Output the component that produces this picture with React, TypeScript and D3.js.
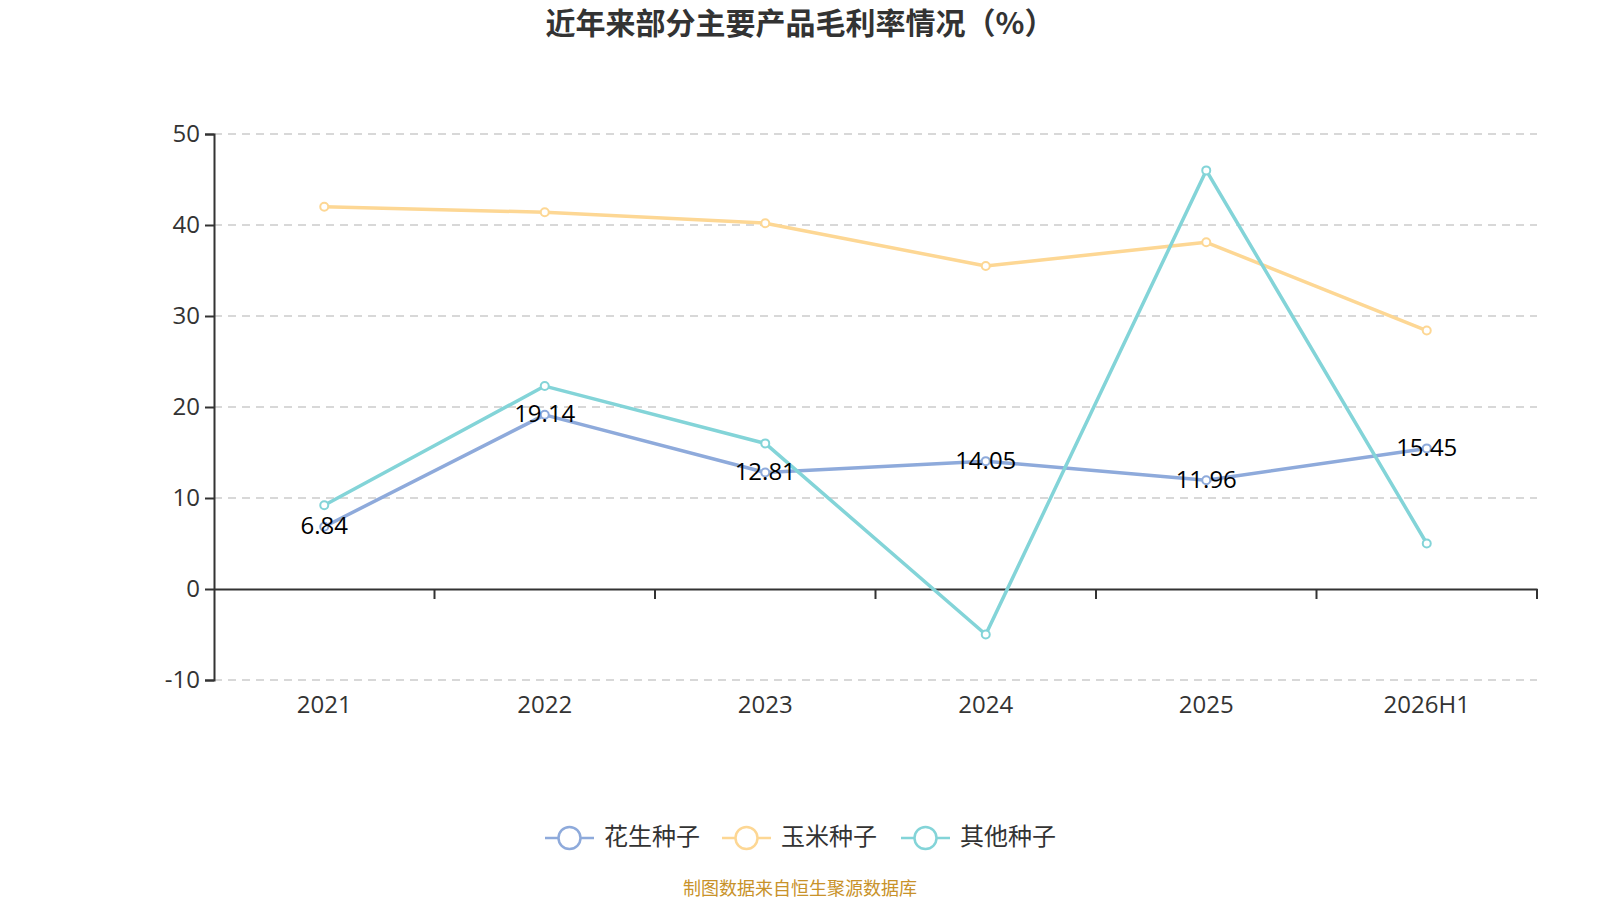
import { useEffect, useRef } from 'react';
import * as d3 from 'd3';

const years = ['2021', '2022', '2023', '2024', '2025', '2026H1'];
const peanut = [6.84, 19.14, 12.81, 14.05, 11.96, 15.45];
const corn = [42.0, 41.4, 40.2, 35.5, 38.1, 28.4];
const others = [9.2, 22.3, 16.0, -5.0, 46.0, 5.0];
const seriesNames = ['花生种子', '玉米种子', '其他种子'];
const yTicks = [-10, 0, 10, 20, 30, 40, 50];

const colors = ['#8eaadb', '#fdd794', '#83d4d8'];
const font = '"Noto Sans CJK SC", "Open Sans", sans-serif';
const numFont = '"Open Sans", "Noto Sans CJK SC", sans-serif';

const App = () => {
  const ref = useRef<SVGSVGElement | null>(null);

  useEffect(() => {
    document.body.style.margin = '0';
    if (!ref.current) return;
    const svg = d3.select(ref.current);
    svg.selectAll('*').remove();
    const width = 1600;
    const height = 900;
    const margin = { top: 134, right: 63, bottom: 220, left: 214 };

    svg.attr('width', width).attr('height', height);

    const x = d3
      .scaleBand<string>()
      .domain(years)
      .range([margin.left, width - margin.right]);

    const y = d3
      .scaleLinear()
      .domain([-10, 50])
      .range([height - margin.bottom, margin.top]);

    // title
    svg
      .append('text')
      .attr('x', width / 2)
      .attr('y', 26)
      .attr('text-anchor', 'middle')
      .attr('dominant-baseline', 'middle')
      .attr('font-family', font)
      .attr('font-size', 30)
      .attr('font-weight', 'bold')
      .attr('fill', '#333')
      .text('近年来部分主要产品毛利率情况（%）');

    // grid lines
    svg
      .append('g')
      .selectAll('line')
      .data(yTicks.filter((t) => t !== 0))
      .join('line')
      .attr('x1', margin.left)
      .attr('x2', width - margin.right)
      .attr('y1', (d) => y(d))
      .attr('y2', (d) => y(d))
      .attr('stroke', '#cccccc')
      .attr('stroke-width', 1.5)
      .attr('stroke-dasharray', '8,6');

    // y axis
    const yAxis = svg
      .append('g')
      .attr('transform', `translate(${margin.left},0)`)
      .call(
        d3
          .axisLeft(y)
          .tickValues(yTicks)
          .tickSize(9)
          .tickPadding(5)
          .tickFormat((d) => String(d))
      );
    yAxis.select('.domain').attr('stroke', '#333').attr('stroke-width', 2);
    yAxis.selectAll('.tick line').attr('stroke', '#333').attr('stroke-width', 2);
    yAxis
      .selectAll('.tick text')
      .attr('font-family', numFont)
      .attr('font-size', 24)
      .attr('fill', '#333');

    // x axis at zero
    const xAxis = svg
      .append('g')
      .attr('transform', `translate(0,${y(0)})`)
      .call(d3.axisBottom(x).tickSize(0).tickSizeOuter(0).tickFormat(() => ''));
    xAxis.select('.domain').attr('stroke', '#333').attr('stroke-width', 2);
    xAxis
      .selectAll('line.boundary')
      .data(years)
      .join('line')
      .attr('class', 'boundary')
      .attr('x1', (d) => (x(d) ?? 0) + x.bandwidth())
      .attr('x2', (d) => (x(d) ?? 0) + x.bandwidth())
      .attr('y1', 0)
      .attr('y2', 10)
      .attr('stroke', '#333')
      .attr('stroke-width', 2);

    // category labels
    svg
      .append('g')
      .selectAll('text')
      .data(years)
      .join('text')
      .attr('x', (d) => (x(d) ?? 0) + x.bandwidth() / 2)
      .attr('y', y(-10) + 27)
      .attr('text-anchor', 'middle')
      .attr('dominant-baseline', 'middle')
      .attr('font-family', numFont)
      .attr('font-size', 24)
      .attr('fill', '#333')
      .text((d) => d);

    const allSeries = [peanut, corn, others];
    const cx = (i: number) => (x(years[i]) ?? 0) + x.bandwidth() / 2;
    const line = d3
      .line<number>()
      .x((_, i) => cx(i))
      .y((d) => y(d));

    allSeries.forEach((data, s) => {
      const g = svg.append('g');
      g.append('path')
        .datum(data)
        .attr('fill', 'none')
        .attr('stroke', colors[s])
        .attr('stroke-width', 3.5)
        .attr('stroke-linejoin', 'round')
        .attr('d', line);
      g.selectAll('circle')
        .data(data)
        .join('circle')
        .attr('cx', (_, i) => cx(i))
        .attr('cy', (d) => y(d))
        .attr('r', 4)
        .attr('fill', '#fff')
        .attr('stroke', colors[s])
        .attr('stroke-width', 2);
    });

    // peanut value labels
    svg
      .append('g')
      .selectAll('text')
      .data(peanut)
      .join('text')
      .attr('x', (_, i) => cx(i))
      .attr('y', (d) => y(d) + 1)
      .attr('text-anchor', 'middle')
      .attr('dominant-baseline', 'middle')
      .attr('font-family', numFont)
      .attr('font-size', 24)
      .attr('fill', '#000')
      .text((d) => d.toFixed(2));

    // legend
    const legendX = [545, 722, 901];
    const legend = svg.append('g');
    seriesNames.forEach((name, s) => {
      const lx = legendX[s];
      const ly = 838;
      legend
        .append('line')
        .attr('x1', lx)
        .attr('x2', lx + 49)
        .attr('y1', ly)
        .attr('y2', ly)
        .attr('stroke', colors[s])
        .attr('stroke-width', 2.5);
      legend
        .append('circle')
        .attr('cx', lx + 24.5)
        .attr('cy', ly)
        .attr('r', 11)
        .attr('fill', '#fff')
        .attr('stroke', colors[s])
        .attr('stroke-width', 2.5);
      legend
        .append('text')
        .attr('x', lx + 59)
        .attr('y', ly)
        .attr('dominant-baseline', 'middle')
        .attr('font-family', font)
        .attr('font-size', 24)
        .attr('fill', '#333')
        .text(name);
    });

    // source
    svg
      .append('text')
      .attr('x', width / 2)
      .attr('y', 890)
      .attr('text-anchor', 'middle')
      .attr('dominant-baseline', 'middle')
      .attr('font-family', font)
      .attr('font-size', 18)
      .attr('fill', '#c8922a')
      .text('制图数据来自恒生聚源数据库');
  }, []);

  return <svg ref={ref} style={{ display: 'block' }} />;
};

export default App;
